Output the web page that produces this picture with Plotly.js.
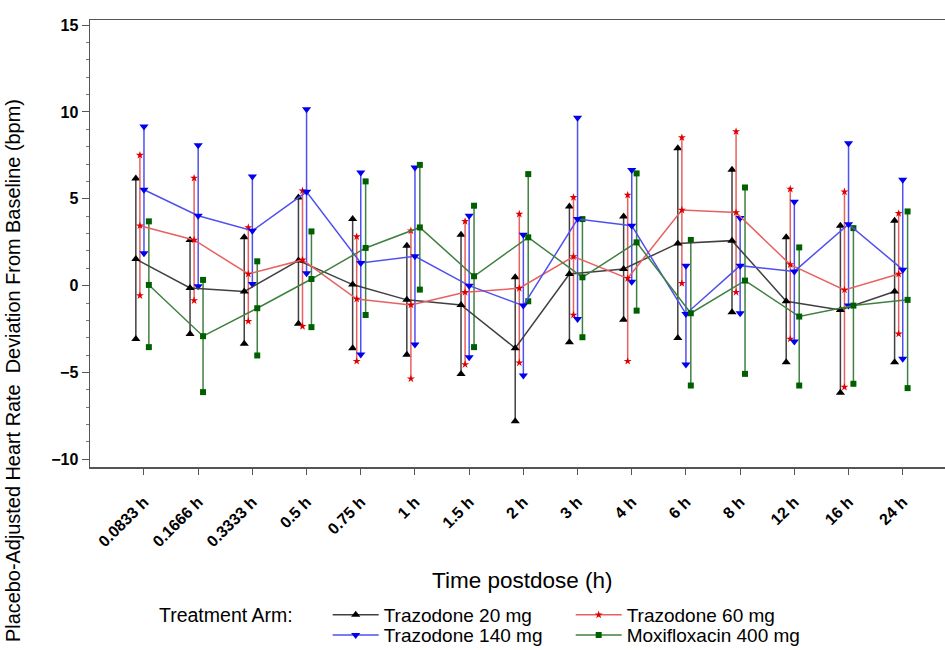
<!DOCTYPE html>
<html>
<head>
<meta charset="utf-8">
<script src="https://cdn.plot.ly/plotly-3.0.1.min.js"></script>
<style>html,body{margin:0;padding:0;background:#fff;}#chart{width:945px;height:650px;}</style>
</head>
<body>
<div id="chart"></div>
<script>
const categories = ['0.0833 h','0.1666 h','0.3333 h','0.5 h','0.75 h','1 h','1.5 h','2 h','3 h','4 h','6 h','8 h','12 h','16 h','24 h'];

const t20_mean = [1.53,-0.13,-0.34,1.44,0.06,-0.82,-1.11,-3.60,0.67,0.96,2.43,2.59,-0.90,-1.40,-0.34];
const t20_hi   = [6.17,2.63,2.78,5.08,3.83,2.30,2.93,0.48,4.56,3.98,7.91,6.67,2.78,3.45,3.74];
const t20_lo   = [-3.07,-2.78,-3.35,-2.20,-3.60,-3.98,-5.08,-7.80,-3.26,-1.97,-3.01,-1.53,-4.41,-6.17,-4.41];

const t60_mean = [3.45,2.63,0.67,1.48,-0.77,-1.11,-0.38,-0.15,1.67,0.42,4.35,4.21,1.21,-0.25,0.67];
const t60_hi   = [7.51,6.19,3.35,5.46,2.82,3.16,3.70,4.12,5.08,5.21,8.52,8.87,5.56,5.40,4.16];
const t60_lo   = [-0.57,-0.86,-2.05,-2.34,-4.35,-5.36,-4.54,-4.44,-1.69,-4.35,0.13,-0.38,-3.07,-5.84,-2.78];

const t140_mean = [5.52,4.02,3.16,5.40,1.30,1.69,0.00,-1.15,3.83,3.45,-1.63,1.15,0.82,3.54,0.92];
const t140_hi   = [9.16,8.08,6.28,10.15,6.51,6.80,4.02,2.93,9.67,6.65,1.15,3.89,4.83,8.20,6.09];
const t140_lo   = [1.86,-0.04,0.10,0.71,-3.97,-3.39,-4.12,-5.17,-1.92,0.23,-4.54,-1.59,-3.22,-1.15,-4.21];

const moxi_mean = [0.04,-2.91,-1.30,0.38,2.17,3.35,0.54,2.78,0.48,2.49,-1.59,0.29,-1.78,-1.15,-0.82];
const moxi_hi   = [3.70,0.33,1.40,3.12,6.00,6.95,4.60,6.42,3.83,6.46,2.63,5.65,2.20,3.31,4.27];
const moxi_lo   = [-3.54,-6.13,-4.02,-2.39,-1.69,-0.23,-3.54,-0.90,-2.97,-1.44,-5.75,-5.08,-5.75,-5.65,-5.90];

const series = [
  {name:'Trazodone 20 mg', mean:t20_mean, hi:t20_hi, lo:t20_lo, off:-0.15, color:'#000000', line:'#404040', symbol:'triangle-up', size:8, legend:'legend'},
  {name:'Trazodone 60 mg', mean:t60_mean, hi:t60_hi, lo:t60_lo, off:-0.075, color:'#e00000', line:'#e86060', symbol:'star', size:6, legend:'legend'},
  {name:'Trazodone 140 mg', mean:t140_mean, hi:t140_hi, lo:t140_lo, off:0, color:'#0000ee', line:'#5050ee', symbol:'triangle-down', size:8, legend:'legend2'},
  {name:'Moxifloxacin 400 mg', mean:moxi_mean, hi:moxi_hi, lo:moxi_lo, off:0.09, color:'#006000', line:'#408040', symbol:'square', size:6, legend:'legend2'}
];

const traces = [];
series.forEach(s => {
  const ex = [], ey = [];
  categories.forEach((c, i) => {
    ex.push(i + s.off, i + s.off, null);
    ey.push(s.lo[i], s.hi[i], null);
  });
  traces.push({
    x: ex, y: ey, type:'scatter', mode:'lines+markers', showlegend:false, hoverinfo:'skip',
    line:{color:s.line, width:1.5},
    marker:{symbol:s.symbol, size:s.size, color:s.color}
  });
});
series.forEach(s => {
  traces.push({
    x: categories.map((c, i) => i + s.off), y: s.mean, name: s.name,
    type:'scatter', mode:'lines+markers', legend:s.legend,
    line:{color:s.line, width:1.5},
    marker:{symbol:s.symbol, size:s.size, color:s.color}
  });
});

const font = 'Liberation Sans, Arial, sans-serif';
const legendBase = {orientation:'h', x:0.278, xanchor:'left', yanchor:'middle', entrywidth:182, itemwidth:46,
    font:{family:font, size:19, color:'#000'}, bgcolor:'rgba(0,0,0,0)', tracegroupgap:0};
const layout = {
  width:945, height:650,
  margin:{l:90, r:0, t:20, b:183, autoexpand:false},
  paper_bgcolor:'#fff', plot_bgcolor:'#fff',
  font:{family:font, color:'#000'},
  xaxis:{
    range:[-0.996, 14.78], tickmode:'array',
    tickvals: categories.map((c, i) => i), ticktext: categories,
    tickangle:-45, tickfont:{family:font, size:16, weight:'bold', color:'#000'},
    ticklabelstandoff:12,
    showgrid:false, zeroline:false, showline:true, mirror:true, linecolor:'#555', linewidth:1.5,
    ticks:'outside', ticklen:6, tickcolor:'#555'
  },
  yaxis:{
    range:[-10.44, 15.29], tickvals:[-10,-5,0,5,10,15],
    tickfont:{family:font, size:16, weight:'bold', color:'#000'},
    showgrid:false, zeroline:false, showline:true, linecolor:'#555', linewidth:1.5,
    ticks:'outside', ticklen:7, tickcolor:'#555',
    minor:{dtick:1, ticks:'outside', ticklen:3, tickcolor:'#777', showgrid:false}
  },
  legend:Object.assign({}, legendBase, {y:-0.331}),
  legend2:Object.assign({}, legendBase, {y:-0.376}),
  annotations:[
    {text:'Time postdose (h)', xref:'paper', yref:'paper', x:0.505, y:-0.253, showarrow:false,
      font:{family:font, size:22.5, color:'#000'}, xanchor:'center', yanchor:'middle'},
    {text:'Treatment Arm:', xref:'paper', yref:'paper', x:0.078, y:-0.331, showarrow:false,
      font:{family:font, size:19.5, color:'#000'}, xanchor:'left', yanchor:'middle'},
    {text:'Placebo-Adjusted Heart Rate \u00a0Deviation From Baseline (bpm)', xref:'paper', yref:'paper',
      x:-0.09, y:0.215, textangle:-90, showarrow:false,
      font:{family:font, size:19.9, color:'#000'}, xanchor:'center', yanchor:'middle'}
  ]
};

Plotly.newPlot('chart', traces, layout, {displayModeBar:false, staticPlot:true});
</script>
</body>
</html>
